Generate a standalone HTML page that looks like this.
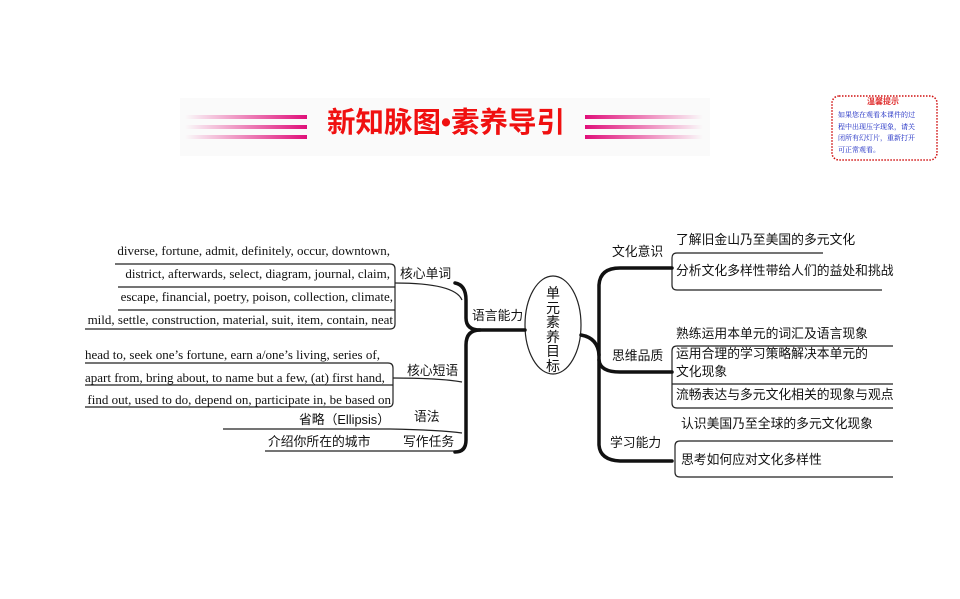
<!DOCTYPE html>
<html><head><meta charset="utf-8"><style>
body{margin:0;width:960px;height:599px;background:#fff;position:relative;overflow:hidden;font-family:"Liberation Serif","Noto Serif CJK SC",serif;}
.t{position:absolute;white-space:nowrap;font-size:13px;color:#111;line-height:1}
.c{font-family:"Liberation Sans","Noto Sans CJK SC",sans-serif;font-size:12.8px}
</style></head><body>
<div style="position:absolute;left:180px;top:98px;width:530px;height:58px;background:#fafafa"></div>
<svg width="960" height="599" style="position:absolute;left:0;top:0">
<defs>
<linearGradient id="gl" x1="0" x2="1"><stop offset="0" stop-color="#e0107a" stop-opacity="0"/><stop offset="1" stop-color="#e0107a"/></linearGradient>
<linearGradient id="gr" x1="0" x2="1"><stop offset="0" stop-color="#e0107a"/><stop offset="1" stop-color="#e0107a" stop-opacity="0"/></linearGradient>
</defs>
<rect x="185" y="115" width="122" height="4" fill="url(#gl)"/>
<rect x="185" y="125" width="122" height="4" fill="url(#gl)"/>
<rect x="185" y="135" width="122" height="4" fill="url(#gl)"/>
<rect x="585" y="115" width="118" height="4" fill="url(#gr)"/>
<rect x="585" y="125" width="118" height="4" fill="url(#gr)"/>
<rect x="585" y="135" width="118" height="4" fill="url(#gr)"/>
<rect x="832" y="96" width="105" height="64" rx="7" fill="#fff" stroke="#d01010" stroke-width="1.5" stroke-dasharray="1.5,1.5"/>
<g fill="none" stroke="#222" stroke-width="1.2">
<path d="M115 264H390q5 0 5 5V324q0 5-5 5H85"/>
<path d="M118 287H395M118 310H395"/>
<path d="M395 283Q455 283 462 300"/>
<path d="M85 363H388q5 0 5 5V402q0 5-5 5H85"/>
<path d="M85 385H393"/>
<path d="M393 378Q440 378 462 382"/>
<path d="M223 429H390Q440 430 462 433"/>
<path d="M265 451H462"/>
<path d="M823 253H677q-5 0-5 5V285q0 5 5 5H882"/>
<path d="M893 346H677q-5 0-5 5V403q0 5 5 5H893"/>
<path d="M672 384H893"/>
<path d="M893 441H680q-5 0-5 5V472q0 5 5 5H893"/>
<ellipse cx="553" cy="325" rx="28" ry="49"/>
</g>
<g fill="none" stroke="#111" stroke-width="3.5" stroke-linecap="round">
<path d="M525 330H480Q466 330 466 345V440Q466 452 455 452"/>
<path d="M480 330Q466 330 466 318V300Q466 285 455 283"/>
<path d="M581 335Q598 338 599 355V445Q600 460 620 461H672"/>
<path d="M599 355V285Q600 268 620 268H672"/>
<path d="M599 360Q600 372 620 372H672"/>
</g>
</svg>
<div class="t c" style="left:327px;top:109px;font-size:28.5px;font-weight:bold;color:#f01010">新知脉图•素养导引</div>
<div class="t c" style="left:867px;top:98px;font-size:8px;color:#e03030;font-weight:bold">温馨提示</div>
<div class="t" style="left:838px;top:110px;font-size:7px;color:#1020c0;line-height:11.5px;font-family:'Noto Serif CJK SC',serif">如果您在观看本课件的过<br>程中出现压字现象，请关<br>闭所有幻灯片，重新打开<br>可正常观看。</div>

<div class="t" style="right:570px;top:244px">diverse, fortune, admit, definitely, occur, downtown,</div>
<div class="t" style="right:570px;top:267px">district, afterwards, select, diagram, journal, claim,</div>
<div class="t" style="right:567px;top:290px">escape, financial, poetry, poison, collection, climate,</div>
<div class="t" style="right:567px;top:313px">mild, settle, construction, material, suit, item, contain, neat</div>
<div class="t" style="left:85px;top:348px">head to, seek one’s fortune, earn a/one’s living, series of,</div>
<div class="t" style="left:85px;top:371px">apart from, bring about, to name but a few, (at) first hand,</div>
<div class="t" style="right:569px;top:393px">find out, used to do, depend on, participate in, be based on</div>
<div class="t c" style="right:570px;top:414px">省略（Ellipsis）</div>
<div class="t c" style="left:268px;top:436px">介绍你所在的城市</div>
<div class="t c" style="left:400px;top:268px">核心单词</div>
<div class="t c" style="left:472px;top:310px">语言能力</div>
<div class="t c" style="left:407px;top:365px">核心短语</div>
<div class="t c" style="left:414px;top:411px">语法</div>
<div class="t c" style="left:403px;top:436px">写作任务</div>
<div class="t c" style="left:546px;top:286px;font-size:14px;line-height:14.5px;width:14px;white-space:normal">单元素养目标</div>
<div class="t c" style="left:612px;top:246px">文化意识</div>
<div class="t c" style="left:612px;top:350px">思维品质</div>
<div class="t c" style="left:610px;top:437px">学习能力</div>
<div class="t c" style="left:676px;top:234px">了解旧金山乃至美国的多元文化</div>
<div class="t c" style="left:676px;top:265px">分析文化多样性带给人们的益处和挑战</div>
<div class="t c" style="left:676px;top:328px">熟练运用本单元的词汇及语言现象</div>
<div class="t c" style="left:676px;top:348px">运用合理的学习策略解决本单元的</div>
<div class="t c" style="left:676px;top:366px">文化现象</div>
<div class="t c" style="left:676px;top:389px">流畅表达与多元文化相关的现象与观点</div>
<div class="t c" style="left:681px;top:418px">认识美国乃至全球的多元文化现象</div>
<div class="t c" style="left:681px;top:454px">思考如何应对文化多样性</div>
</body></html>
